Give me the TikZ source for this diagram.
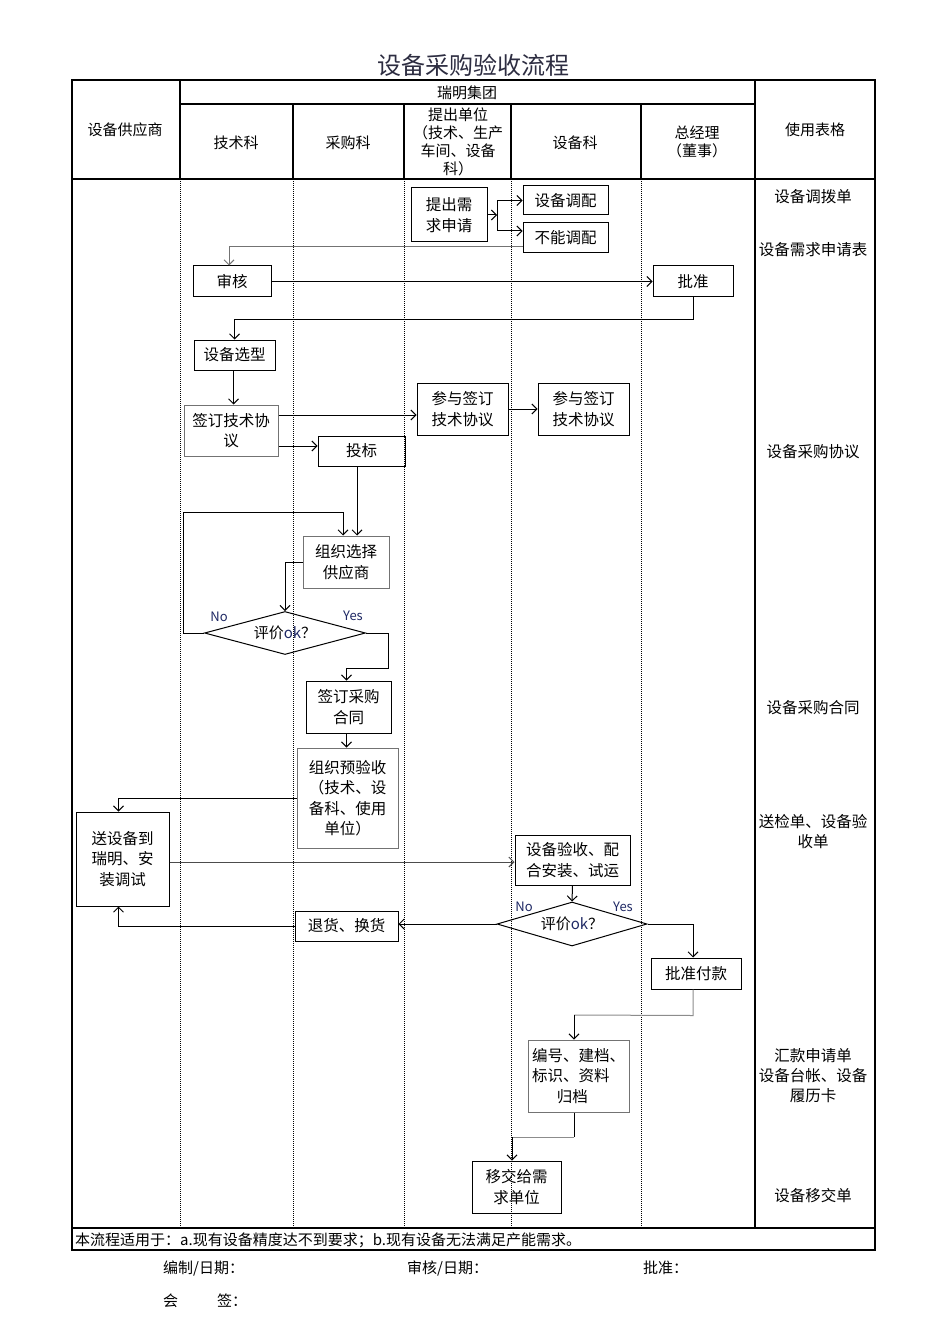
\documentclass[tikz,border=0pt]{standalone}
\usepackage{fontspec}
\setmainfont{Noto Sans CJK SC}
\usetikzlibrary{arrows.meta,shapes.geometric,calc}
\definecolor{labc}{RGB}{30,40,100}
\definecolor{titlec}{RGB}{45,45,65}
\begin{document}
\begin{tikzpicture}[x=1pt,y=-1pt,
  box/.style={draw=black, line width=1pt, inner sep=1pt, align=center, font=\fontsize{15.5pt}{20.5pt}\selectfont},
  gbox/.style={box, draw=black!55},
  arr/.style={line width=1pt, -{Straight Barb[length=5pt,width=10pt,line width=1pt]}},
  garr/.style={arr, draw=black!55},
  ln/.style={line width=1pt},
  gln/.style={line width=1pt, draw=black!45},
  dia/.style={draw, diamond, line width=1pt, inner sep=0pt, aspect=3.7, font=\fontsize{15pt}{18pt}\selectfont},
  lane/.style={line width=0.9pt, dash pattern=on 1pt off 1pt},
  frame/.style={line width=1.2pt},
  hdr/.style={font=\fontsize{15pt}{18pt}\selectfont, align=center, inner sep=0pt},
  form/.style={font=\fontsize{15.5pt}{20pt}\selectfont, align=center, inner sep=0pt},
  yn/.style={font=\fontsize{13pt}{13pt}\selectfont, text=labc, inner sep=0pt},
  foot/.style={font=\fontsize{15pt}{18pt}\selectfont, inner sep=0pt, anchor=west}
]
\useasboundingbox (0,0) rectangle (945,1337);
\fill[white] (0,0) rectangle (945,1337);

% title
\node[font=\fontsize{24pt}{26pt}\selectfont, text=titlec, inner sep=0pt] (title) at (473,65) {设备采购验收流程};

% frame
\draw[frame] (72,80) rectangle (875,1250);
\draw[frame] (72,179) -- (875,179);
\draw[frame] (72,1228) -- (875,1228);
\draw[frame] (180,104) -- (755,104);
\draw[frame] (180,80) -- (180,179);
\draw[frame] (755,80) -- (755,1228);
\foreach \x in {293,404,511,641} \draw[frame] (\x,104) -- (\x,179);
\foreach \x in {180,293,404,511,641} \draw[lane] (\x,179) -- (\x,1228);

% header
\node[hdr] (hsup) at (125,130) {设备供应商};
\node[hdr] (hgrp) at (467,93) {瑞明集团};
\node[hdr] (hjs) at (236,143) {技术科};
\node[hdr] (hcg) at (348,143) {采购科};
\node[hdr] (htc) at (458,142) {提出单位\\（技术、生产\\车间、设备\\科）};
\node[hdr] (hsb) at (575,143) {设备科};
\node[hdr] (hzj) at (697,142) {总经理\\（董事）};
\node[hdr] (hbg) at (815,130) {使用表格};

% forms column
\node[form] (f1) at (813,197) {设备调拨单};
\node[form] (f2) at (813,250) {设备需求申请表};
\node[form] (f3) at (813,452) {设备采购协议};
\node[form] (f4) at (813,708) {设备采购合同};
\node[form] (f5) at (813,832) {送检单、设备验\\收单};
\node[form] (f6) at (813,1076) {汇款申请单\\设备台帐、设备\\履历卡};
\node[form] (f7) at (813,1196) {设备移交单};

% boxes
\node[box, minimum width=76pt, minimum height=54pt] (req) at (449,215) {提出需\\求申请};
\node[box, minimum width=85pt, minimum height=29pt] (dev1) at (565.5,200.5) {设备调配};
\node[box, minimum width=85pt, minimum height=30pt] (dev2) at (565.5,238) {不能调配};
\node[box, minimum width=78pt, minimum height=31pt] (sh) at (232,281.5) {审核};
\node[box, minimum width=80pt, minimum height=31pt] (pz) at (693,281.5) {批准};
\node[box, minimum width=81pt, minimum height=30pt] (xx) at (234.5,355) {设备选型};
\node[gbox, minimum width=94pt, minimum height=51pt] (jsxy) at (231,430.5) {签订技术协\\议};
\node[box, minimum width=91pt, minimum height=52pt] (cy1) at (462.5,409) {参与签订\\技术协议};
\node[box, minimum width=91pt, minimum height=52pt] (cy2) at (583.5,409) {参与签订\\技术协议};
\node[box, minimum width=87pt, minimum height=30pt] (tb) at (361.5,451) {投标};
\node[gbox, minimum width=86pt, minimum height=52pt] (zz) at (346,562) {组织选择\\供应商};
\node[dia, minimum width=161pt, minimum height=43pt] (d1) at (285,633) {评价{\color{labc}ok}？};
\node[box, minimum width=85pt, minimum height=52pt] (ht) at (348.5,707) {签订采购\\合同};
\node[gbox, minimum width=101pt, minimum height=100pt] (ys) at (347.5,798) {组织预验收\\（技术、设\\备科、使用\\单位）};
\node[box, minimum width=93pt, minimum height=94pt] (sb) at (122.5,859) {送设备到\\瑞明、安\\装调试};
\node[box, minimum width=115pt, minimum height=50pt] (yssb) at (572.5,860) {设备验收、配\\合安装、试运};
\node[dia, minimum width=150pt, minimum height=44pt] (d2) at (572,924) {评价{\color{labc}ok}？};
\node[box, minimum width=103pt, minimum height=30pt] (th) at (346.5,926) {退货、换货};
\node[box, minimum width=90pt, minimum height=31pt] (fk) at (696,973.5) {批准付款};
\node[gbox, align=left, minimum width=101pt, minimum height=72pt] (bh) at (578.5,1076) {编号、建档、\\标识、资料\\\hspace*{1.6em}归档};
\node[box, minimum width=89pt, minimum height=52pt] (yj) at (516.5,1187) {移交给需\\求单位};

% yes / no labels
\node[yn] (no1) at (219,617) {No};
\node[yn] (yes1) at (353,616) {Yes};
\node[yn] (no2) at (524,907) {No};
\node[yn] (yes2) at (623,907) {Yes};

% connectors
\coordinate (br) at (497,215);
\draw[arr] (req.east) -- (br);
\draw[arr] (br) |- (dev1.west);
\draw[arr] (br) |- ([yshift=7pt]dev2.west);
\draw[garr] ([yshift=-9pt]dev2.west) -| ([xshift=-3pt]sh.north);
\draw[arr] (sh.east) -- (pz.west);
\draw[arr] (pz.south) -- ++(0,22) -| (xx.north);
\draw[arr] ([xshift=-1pt]xx.south) -- ([xshift=-1pt]xx.south |- jsxy.north);
\draw[arr] (jsxy.east |- 0,415) -- ([yshift=-6pt]cy1.west);
\draw[arr] (jsxy.east |- 0,446) -- ([yshift=5pt]tb.west);
\draw[arr] (cy1.east) -- (cy2.west);
\draw[arr] ([xshift=11pt]zz.north |- tb.south) -- ([xshift=11pt]zz.north);
\draw[arr] (zz.west) -| (d1.north);
\coordinate (looptop) at (343,512);
\draw[arr] (d1.west) -- (183,633) |- (looptop) -- ([xshift=-3pt]zz.north);
\draw[arr] (d1.east) -- ++(22,0) -- ++(0,35) -| ([xshift=-2pt]ht.north);
\draw[arr] ([xshift=-2pt]ht.south) -- ([xshift=-2pt]ht.south |- ys.north);
\draw[arr] (ys.west) -| ([xshift=-4pt]sb.north);
\draw[arr, draw=black!70] (sb.east |- 0,862) -- ([yshift=-2pt]yssb.west);
\draw[arr] (yssb.south) -- (d2.north);
\draw[arr] (d2.west) -- (d2.west -| th.east);
\draw[arr] (th.west) -| ([xshift=-4pt]sb.south);
\draw[arr] (d2.east) -| ([xshift=-3pt]fk.north);
\draw[gln] ([xshift=-3pt]fk.south) -- ++(0,26) -- (574,1015);
\draw[arr] (574,1015) -- ([xshift=-4.5pt]bh.north);
\draw[ln] ([xshift=-4.5pt]bh.south) -- (574,1137);
\draw[gln] (574,1137) -- (512,1137);
\draw[arr] (512,1137) -- ([xshift=-4.5pt]yj.north);

% footer
\node[foot] (note) at (75,1240) {本流程适用于：a.现有设备精度达不到要求；b.现有设备无法满足产能需求。};
\node[foot] (s1) at (163,1268) {编制/日期：};
\node[foot] (s2) at (407,1268) {审核/日期：};
\node[foot] (s3) at (643,1268) {批准：};
\node[foot] (s4) at (163,1301) {会\hspace{39pt}签：};
\end{tikzpicture}
\end{document}
